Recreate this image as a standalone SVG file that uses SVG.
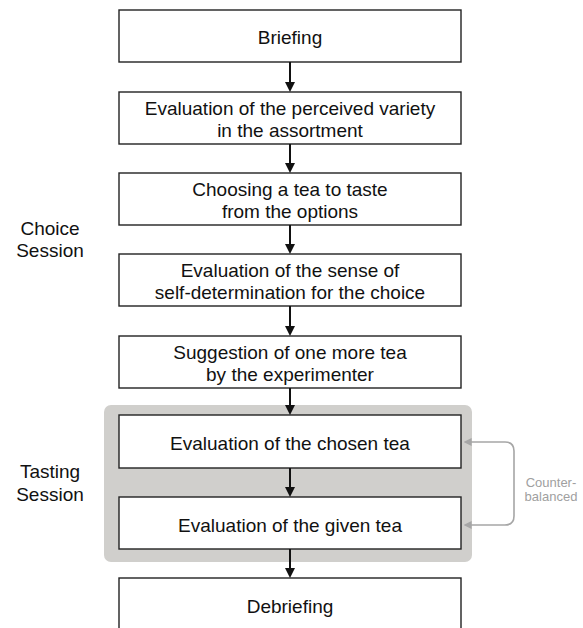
<svg xmlns="http://www.w3.org/2000/svg" width="583" height="628" viewBox="0 0 583 628">
<defs>
<style>
.box{fill:#ffffff;stroke:#222222;stroke-width:1.4}
.t{font-family:"Liberation Sans",Arial,sans-serif;font-size:19px;fill:#111111;text-anchor:middle}
.lab{font-family:"Liberation Sans",Arial,sans-serif;font-size:19px;fill:#111111;text-anchor:middle}
.cb{font-family:"Liberation Sans",Arial,sans-serif;font-size:13px;fill:#a0a0a0;text-anchor:middle}
.arr{stroke:#111111;stroke-width:2;fill:none;marker-end:url(#ah)}
.garr{stroke:#a6a6a6;stroke-width:1.6;fill:none}
</style>
<marker id="ah" markerUnits="userSpaceOnUse" viewBox="0 0 10 10" markerWidth="10" markerHeight="11" refX="2" refY="5" orient="auto">
<path d="M0,0 L10,5 L0,10 z" fill="#111111"/>
</marker>
<marker id="gah" markerUnits="userSpaceOnUse" viewBox="0 0 10 10" markerWidth="8" markerHeight="8" refX="2" refY="5" orient="auto">
<path d="M0,0 L10,5 L0,10 z" fill="#a6a6a6"/>
</marker>
</defs>
<rect width="583" height="628" fill="#ffffff"/>
<g id="tasting-panel">
<rect x="104" y="405" width="368" height="157" rx="7" fill="#d0cfcc"/>
</g>
<g id="label-choice">
<text class="lab" x="50" y="235">Choice</text>
<text class="lab" x="50" y="257">Session</text>
</g>
<g id="label-tasting">
<text class="lab" x="50" y="478">Tasting</text>
<text class="lab" x="50" y="501">Session</text>
</g>
<g id="briefing">
<rect class="box" x="119" y="10" width="342" height="52"/>
<text class="t" x="290" y="44">Briefing</text>
</g>
<g id="variety">
<rect class="box" x="119" y="92" width="342" height="52"/>
<text class="t" x="290" y="115">Evaluation of the perceived variety</text>
<text class="t" x="290" y="137">in the assortment</text>
</g>
<g id="choosing">
<rect class="box" x="119" y="173" width="342" height="52"/>
<text class="t" x="290" y="196">Choosing a tea to taste</text>
<text class="t" x="290" y="218">from the options</text>
</g>
<g id="selfdet">
<rect class="box" x="119" y="254" width="342" height="52"/>
<text class="t" x="290" y="277">Evaluation of the sense of</text>
<text class="t" x="290" y="299">self-determination for the choice</text>
</g>
<g id="suggestion">
<rect class="box" x="119" y="336" width="342" height="52"/>
<text class="t" x="290" y="359">Suggestion of one more tea</text>
<text class="t" x="290" y="381">by the experimenter</text>
</g>
<g id="chosen">
<rect class="box" x="119" y="415" width="342" height="53"/>
<text class="t" x="290" y="450">Evaluation of the chosen tea</text>
</g>
<g id="given">
<rect class="box" x="119" y="497" width="342" height="52"/>
<text class="t" x="290" y="532">Evaluation of the given tea</text>
</g>
<g id="debriefing">
<rect class="box" x="119" y="578" width="342" height="70"/>
<text class="t" x="290" y="613">Debriefing</text>
</g>
<g id="counterbalanced">
<text class="cb" x="551" y="487">Counter-</text>
<text class="cb" x="551" y="501">balanced</text>
</g>
<g id="connectors">
<line class="arr" x1="290" y1="62" x2="290" y2="84"/>
<line class="arr" x1="290" y1="144" x2="290" y2="165"/>
<line class="arr" x1="290" y1="225" x2="290" y2="246"/>
<line class="arr" x1="290" y1="306" x2="290" y2="328"/>
<line class="arr" x1="290" y1="388" x2="290" y2="407"/>
<line class="arr" x1="290" y1="468" x2="290" y2="489"/>
<line class="arr" x1="290" y1="549" x2="290" y2="570"/>
<path class="garr" d="M505,442 Q514,442 514,451 L514,516 Q514,525 505,525 L470,525" marker-end="url(#gah)"/>
<path class="garr" d="M505,442 L470,442" marker-end="url(#gah)"/>
</g>
</svg>
